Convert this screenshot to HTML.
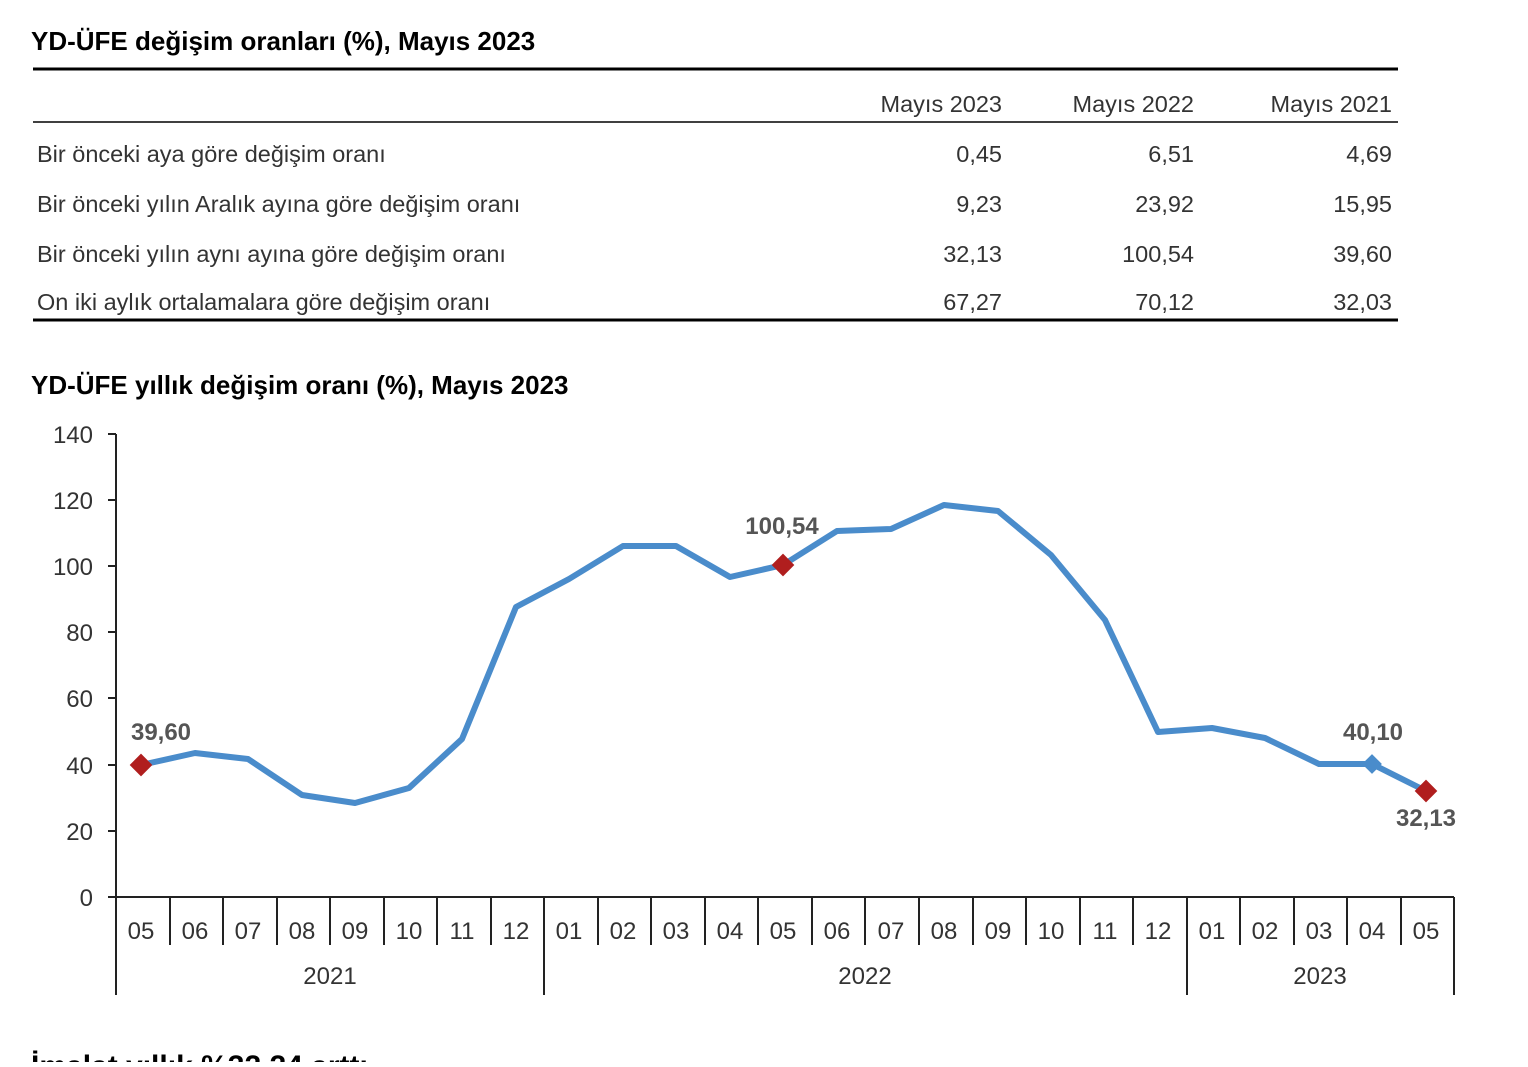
<!DOCTYPE html>
<html><head><meta charset="utf-8"><style>
body{margin:0;background:#fff;width:1528px;height:1062px;overflow:hidden;font-family:"Liberation Sans",Arial,sans-serif;}
</style></head><body>
<svg width="1528" height="1062" xmlns="http://www.w3.org/2000/svg" font-family="Liberation Sans, Arial, sans-serif">
<text x="31" y="50" font-size="26" font-weight="bold" fill="#000">YD-ÜFE değişim oranları (%), Mayıs 2023</text>
<line x1="33" y1="69" x2="1398" y2="69" stroke="#000" stroke-width="3"/>
<g font-size="23.5" fill="#333">
<text x="1002" y="112" text-anchor="end">Mayıs 2023</text>
<text x="1194" y="112" text-anchor="end">Mayıs 2022</text>
<text x="1392" y="112" text-anchor="end">Mayıs 2021</text>
</g>
<line x1="33" y1="122" x2="1398" y2="122" stroke="#000" stroke-width="1.5"/>
<g font-size="23.5" fill="#333">
<text x="37" y="162">Bir önceki aya göre değişim oranı</text>
<text x="1002" y="162" text-anchor="end">0,45</text><text x="1194" y="162" text-anchor="end">6,51</text><text x="1392" y="162" text-anchor="end">4,69</text>
<text x="37" y="212">Bir önceki yılın Aralık ayına göre değişim oranı</text>
<text x="1002" y="212" text-anchor="end">9,23</text><text x="1194" y="212" text-anchor="end">23,92</text><text x="1392" y="212" text-anchor="end">15,95</text>
<text x="37" y="262">Bir önceki yılın aynı ayına göre değişim oranı</text>
<text x="1002" y="262" text-anchor="end">32,13</text><text x="1194" y="262" text-anchor="end">100,54</text><text x="1392" y="262" text-anchor="end">39,60</text>
<text x="37" y="310">On iki aylık ortalamalara göre değişim oranı</text>
<text x="1002" y="310" text-anchor="end">67,27</text><text x="1194" y="310" text-anchor="end">70,12</text><text x="1392" y="310" text-anchor="end">32,03</text>
</g>
<line x1="33" y1="320" x2="1398" y2="320" stroke="#000" stroke-width="3"/>
<text x="31" y="394" font-size="26" font-weight="bold" fill="#000">YD-ÜFE yıllık değişim oranı (%), Mayıs 2023</text>

<g stroke="#222" stroke-width="2" fill="none">
<line x1="116" y1="434" x2="116" y2="995"/>
<line x1="116" y1="897" x2="1454" y2="897"/>
<path d="M108 434H116M108 500H116M108 566H116M108 632H116M108 698H116M108 765H116M108 831H116M108 897H116"/>
<path d="M170 897V945M223 897V945M277 897V945M330 897V945M384 897V945M437 897V945M491 897V945M598 897V945M651 897V945M705 897V945M758 897V945M812 897V945M865 897V945M919 897V945M973 897V945M1026 897V945M1080 897V945M1133 897V945M1240 897V945M1294 897V945M1347 897V945M1401 897V945"/>
<path d="M544 897V995M1187 897V995M1454 897V995"/>
</g>
<g font-size="24" fill="#333" text-anchor="end">
<text x="93" y="443">140</text><text x="93" y="509">120</text><text x="93" y="575">100</text><text x="93" y="641">80</text><text x="93" y="707">60</text><text x="93" y="774">40</text><text x="93" y="840">20</text><text x="93" y="906">0</text>
</g>
<g font-size="24" fill="#333" text-anchor="middle">
<text x="141" y="939">05</text><text x="195" y="939">06</text><text x="248" y="939">07</text><text x="302" y="939">08</text><text x="355" y="939">09</text><text x="409" y="939">10</text><text x="462" y="939">11</text><text x="516" y="939">12</text><text x="569" y="939">01</text><text x="623" y="939">02</text><text x="676" y="939">03</text><text x="730" y="939">04</text><text x="783" y="939">05</text><text x="837" y="939">06</text><text x="891" y="939">07</text><text x="944" y="939">08</text><text x="998" y="939">09</text><text x="1051" y="939">10</text><text x="1105" y="939">11</text><text x="1158" y="939">12</text><text x="1212" y="939">01</text><text x="1265" y="939">02</text><text x="1319" y="939">03</text><text x="1372" y="939">04</text><text x="1426" y="939">05</text>
<text x="330" y="984">2021</text><text x="865" y="984">2022</text><text x="1320" y="984">2023</text>
</g>
<polyline fill="none" stroke="#4a8ccb" stroke-width="6" stroke-linejoin="round" points="141,765 195,753 248,759 302,795 355,803 409,788 462,739 516,607 569,579 623,546 676,546 730,577 783,565 837,531 891,529 944,505 998,511 1051,555 1105,620 1158,732 1212,728 1265,738 1319,764 1372,764 1426,791"/>
<g fill="#b01e1e">
<rect x="133" y="757" width="16" height="16" transform="rotate(45 141 765)"/>
<rect x="775" y="557" width="16" height="16" transform="rotate(45 783 565)"/>
<rect x="1418" y="783" width="16" height="16" transform="rotate(45 1426 791)"/>
</g>
<rect x="1365" y="757" width="14" height="14" fill="#4a8ccb" transform="rotate(45 1372 764)"/>
<g font-size="24" font-weight="bold" fill="#555" text-anchor="middle">
<text x="161" y="740">39,60</text><text x="782" y="534">100,54</text><text x="1373" y="740">40,10</text><text x="1426" y="826">32,13</text>
</g>
<text x="31" y="1076" font-size="30" font-weight="bold" fill="#000">İmalat yıllık %32,24 arttı</text>
</svg>
</body></html>
